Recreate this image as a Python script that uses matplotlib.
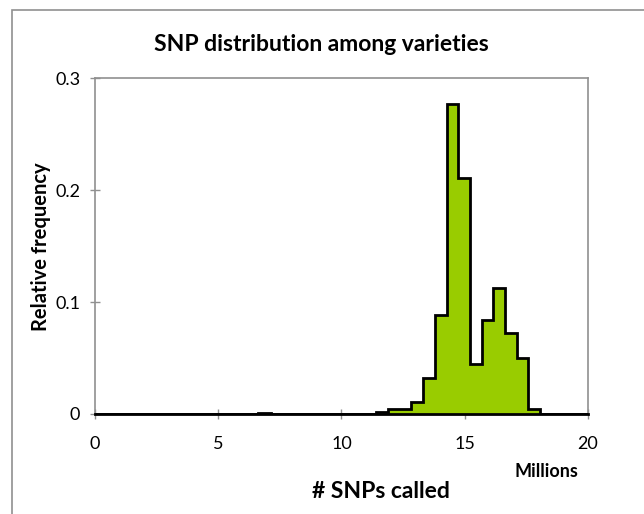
import numpy as np
import matplotlib
matplotlib.use("Agg")
import matplotlib.pyplot as plt
from matplotlib.patches import Rectangle

plt.rcParams['font.family'] = ['Lato', 'DejaVu Sans']

# bin edges (millions of SNPs) and relative frequency per bin
edges = [0, 6.62, 7.14, 11.39, 11.87, 12.34, 12.81, 13.29, 13.79, 14.27,
         14.74, 15.21, 15.69, 16.16, 16.63, 17.11, 17.58, 18.05, 20]
freq = [0, 0.001, 0, 0.0015, 0.004, 0.004, 0.011, 0.032, 0.088, 0.277,
        0.211, 0.045, 0.084, 0.1125, 0.0726, 0.050, 0.0042, 0]

x_ticks = [0, 5, 10, 15, 20]
y_ticks = [0, 0.1, 0.2, 0.3]

fig = plt.figure(figsize=(6.44, 5.14), dpi=100)
ax = fig.add_axes([0.1475, 0.1946, 0.7655, 0.6534])

ax.stairs(freq, edges, fill=True, color='#99cc00', zorder=2)
ax.stairs(freq, edges, color='black', linewidth=2, zorder=3)

ax.set_xlim(0, 20)
ax.set_ylim(0, 0.3)
ax.set_xticks(x_ticks)
ax.set_yticks(y_ticks)
ax.set_yticklabels(['0', '0.1', '0.2', '0.3'])
ax.tick_params(direction='inout', length=7.2, width=1, color='#909090',
               labelsize=13, labelcolor='black')
ax.tick_params(axis='x', pad=12)
ax.tick_params(axis='y', pad=7)

for s in ['left', 'top', 'right']:
    ax.spines[s].set_color('#909090')
    ax.spines[s].set_linewidth(1.2)
ax.spines['bottom'].set_color('black')
ax.spines['bottom'].set_linewidth(2)

fig.text(0.499, 0.914, 'SNP distribution among varieties', ha='center', va='center',
         fontsize=16.5, fontweight='bold')
fig.text(0.592, 0.043, '# SNPs called', ha='center', va='center',
         fontsize=16.5, fontweight='bold')
fig.text(0.849, 0.082, 'Millions', ha='center', va='center',
         fontsize=13, fontweight='bold')
fig.text(0.063, 0.52, 'Relative frequency', ha='center', va='center',
         rotation=90, fontsize=14.5, fontweight='bold')

# outer chart frame
fig.patches.append(Rectangle((12 / 644, -0.05), 1.1, 1 - 10 / 514 + 0.05,
                             transform=fig.transFigure, fill=False,
                             edgecolor='#909090', linewidth=1.2))

fig.savefig('out.png', dpi=100)
